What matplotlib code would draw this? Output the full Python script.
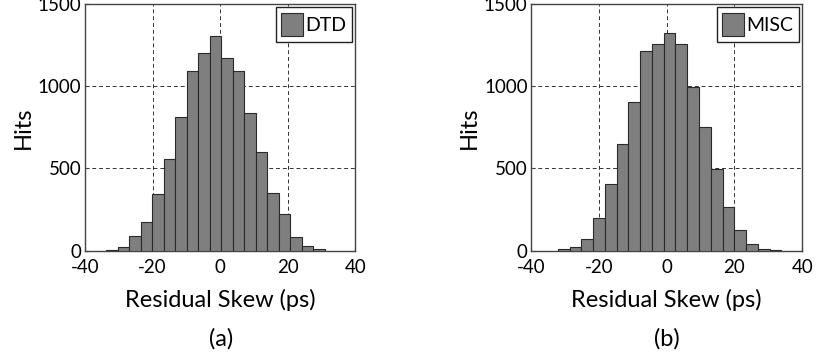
"""Residual skew histograms for the DTD and MISC cases"""

import numpy as np
from matplotlib import pyplot as plt

# bin counts (19 bins each)
dtd_counts = [4, 20, 87, 173, 346, 559, 815, 1094, 1199, 1303,
              1169, 1092, 836, 598, 348, 224, 81, 28, 10]
dtd_first_edge = -33.7
dtd_bin_width = 3.40

misc_counts = [12, 24, 69, 201, 405, 647, 901, 1214, 1254, 1326,
               1259, 994, 750, 498, 266, 124, 41, 8, 3]
misc_first_edge = -32.1
misc_bin_width = 3.47

xticks = [-40, -20, 0, 20, 40]
yticks = [0, 500, 1000, 1500]

plt.rcParams['font.family'] = ['Lato', 'DejaVu Sans']
plt.rcParams['axes.unicode_minus'] = False


def draw_hist(ax, counts, first_edge, width, label):
    """Draw one histogram panel"""
    edges = first_edge + width * np.arange(len(counts))
    ax.bar(edges, counts, width=width, align='edge', color='#7f7f7f',
           edgecolor='#2a2a2a', linewidth=0.8, label=label, zorder=3)
    ax.set_xlim(-40, 40)
    ax.set_ylim(0, 1500)
    ax.set_xticks(xticks)
    ax.set_yticks(yticks)
    ax.grid(True, color='#333333', linestyle=(0, (4, 3)), linewidth=0.7)
    ax.tick_params(direction='in', length=3, labelsize=13.5,
                   color='#444444')
    ax.tick_params(axis='x', pad=6)
    ax.tick_params(axis='y', pad=2.5)
    for s in ax.spines.values():
        s.set_color('#444444')
        s.set_linewidth(1.0)
    ax.set_xlabel('Residual Skew (ps)', fontsize=17, labelpad=9)
    ax.set_ylabel('Hits', fontsize=17, labelpad=3)
    leg = ax.legend(loc='upper right', fontsize=14, handlelength=1.1,
                    handleheight=1.5, handletextpad=0.15, borderpad=0.3,
                    borderaxespad=0.15, fancybox=False, framealpha=1)
    leg.get_frame().set_edgecolor('#222222')
    leg.get_frame().set_linewidth(1.0)


fig = plt.figure(figsize=(8.17, 3.58), dpi=100)
ax1 = fig.add_axes([0.104, 0.300, 0.331, 0.689])
ax2 = fig.add_axes([0.650, 0.300, 0.332, 0.689])

draw_hist(ax1, dtd_counts, dtd_first_edge, dtd_bin_width, 'DTD')
draw_hist(ax2, misc_counts, misc_first_edge, misc_bin_width, 'MISC')

fig.text(0.271, 0.053, '(a)', ha='center', va='center', fontsize=17)
fig.text(0.816, 0.053, '(b)', ha='center', va='center', fontsize=17)

fig.savefig('out.png', dpi=100)
